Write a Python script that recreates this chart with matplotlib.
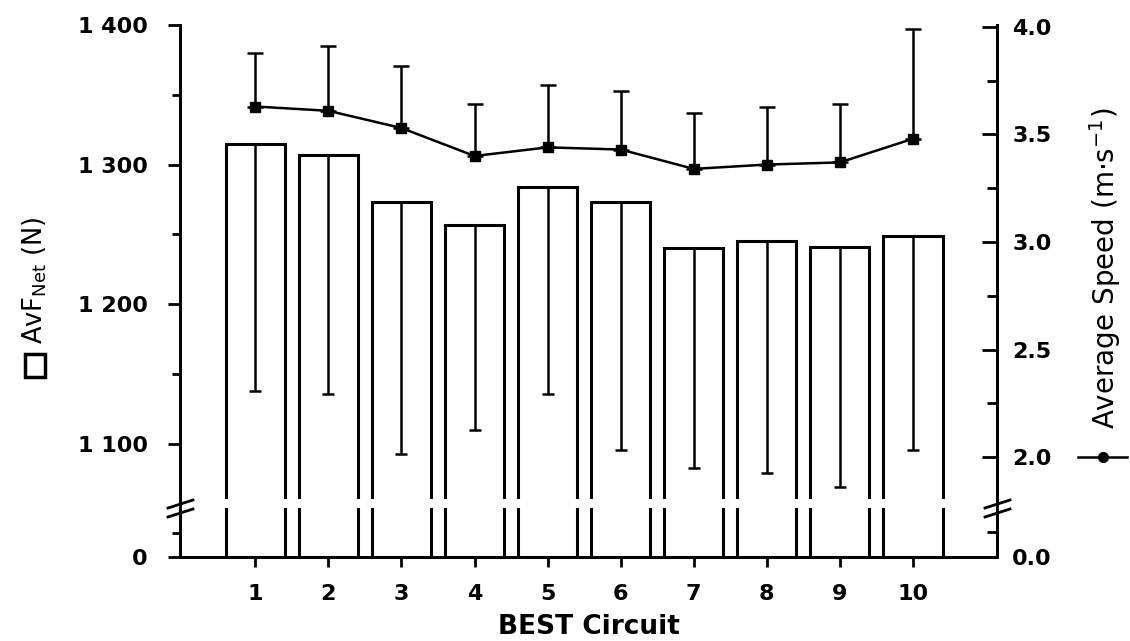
import numpy as np
import matplotlib
matplotlib.use('Agg')
import matplotlib.pyplot as plt
from matplotlib.lines import Line2D
from matplotlib.patches import Polygon, Rectangle

plt.rcParams['font.family'] = ['DejaVu Sans']

# data
circuits = [1, 2, 3, 4, 5, 6, 7, 8, 9, 10]
avf_net = [1315, 1307, 1273, 1257, 1284, 1273, 1240, 1245, 1241, 1249]
avf_low = [1138, 1136, 1093, 1110, 1136, 1096, 1083, 1079, 1069, 1096]
speed = [3.63, 3.61, 3.53, 3.40, 3.44, 3.43, 3.34, 3.36, 3.37, 3.48]
speed_high = [3.88, 3.91, 3.82, 3.64, 3.73, 3.70, 3.60, 3.63, 3.64, 3.99]

left_ticks = [0, 1100, 1200, 1300, 1400]
left_labels = ['0', '1 100', '1 200', '1 300', '1 400']
left_minor = [500, 1150, 1250, 1350]
right_ticks = [0.0, 2.0, 2.5, 3.0, 3.5, 4.0]
right_minor = [0.5, 2.25, 2.75, 3.25, 3.75]

# broken axes: piecewise linear scales (value -> pixel height above x axis)
lv = [-1000, 0, 1000, 1060.6, 1400, 3000]
lp = [-49, 0, 49, 58, 532, 532 + 1600 * 1.397]
rv = [-1, 0, 1.0, 1.805, 4.0, 10]
rp = [-49, 0, 49, 58, 530, 530 + 6 * 215]


def fwd(xv, xp):
    return lambda v: np.interp(v, xv, xp)


fig = plt.figure(figsize=(11.3, 6.41), dpi=100)
ax = fig.add_axes([180 / 1130, 1 - 557 / 641, 817 / 1130, 532 / 641])
ax.set_yscale('function', functions=(fwd(lv, lp), fwd(lp, lv)))
ax.set_ylim(0, 1400)
ax.set_xlim(-0.03, 11.15)

ax.bar(circuits, avf_net, width=0.81, color='white', edgecolor='black', linewidth=2.2, zorder=2)
lower_err = np.array(avf_net) - np.array(avf_low)
ax.errorbar(circuits, avf_net, yerr=[lower_err, np.zeros(len(circuits))], fmt='none',
            ecolor='black', elinewidth=1.8, capsize=4, capthick=1.8, zorder=2.1)
# gap through the bars at the break
ax.axhspan(1000, 1060.6, color='white', zorder=2.2, lw=0)

ax2 = ax.twinx()
ax2.set_yscale('function', functions=(fwd(rv, rp), fwd(rp, rv)))
ax2.set_ylim(0, 4.009)
up_err = np.array(speed_high) - np.array(speed)
ax2.errorbar(circuits, speed, yerr=[np.zeros(len(circuits)), up_err], fmt='-s', color='black',
             ms=7, lw=1.8, elinewidth=1.8, capsize=6, capthick=1.8)

for a in (ax, ax2):
    for s in a.spines.values():
        s.set_linewidth(2)
    a.spines['top'].set_visible(False)

ax.set_yticks(left_ticks)
ax.set_yticklabels(left_labels)
ax.set_yticks(left_minor, minor=True)
ax.set_xticks(circuits)
ax.tick_params(axis='y', which='major', length=8.6, width=2, labelsize=16, pad=14.5)
ax.tick_params(axis='y', which='minor', length=6, width=2)
ax.tick_params(axis='x', length=7.5, width=2, labelsize=16, pad=12)
for t in ax.get_yticklabels() + ax.get_xticklabels():
    t.set_fontweight('bold')

ax2.set_yticks(right_ticks)
ax2.set_yticklabels(['%.1f' % v for v in right_ticks])
ax2.set_yticks(right_minor, minor=True)
ax2.tick_params(axis='y', which='major', direction='in', length=11, width=2, labelsize=16, pad=11)
ax2.tick_params(axis='y', which='minor', direction='in', length=7, width=2)
for t in ax2.get_yticklabels():
    t.set_fontweight('bold')

ax.set_xlabel('BEST Circuit', fontsize=19, fontweight='bold', va='center')
ax.xaxis.set_label_coords(0.5, -(627 - 557) / 532)

fig.text(35 / 1130, 1 - 280 / 641, 'AvF$_{\\mathregular{Net}}$ (N)', rotation=90,
         ha='center', va='center', fontsize=18.5)
fig.add_artist(Rectangle((25 / 1130, 1 - 377 / 641), 20 / 1130, 23 / 641, fill=False,
                         lw=2.5, edgecolor='black', transform=fig.transFigure))
fig.text(1105 / 1130, 1 - 268 / 641, 'Average Speed (m\u00b7s$^{\\mathregular{-1}}$)', rotation=90,
         ha='center', va='center', fontsize=20)

# break marks on both spines
for xa in (0.0, 1.0):
    for yc in (53, 44):
        y0 = yc / 532
        ax.plot([xa - 12 / 817, xa + 13 / 817], [y0 - 4 / 532, y0 + 4 / 532], color='black', lw=2,
                transform=ax.transAxes, clip_on=False, zorder=5)
    ax.add_patch(Polygon([[xa - 6 / 817, 47 / 532], [xa + 6 / 817, 50 / 532],
                          [xa + 6 / 817, 55 / 532], [xa - 6 / 817, 52 / 532]],
                         closed=True, color='white', transform=ax.transAxes, clip_on=False, zorder=4))

# legend symbol below right label
fig.add_artist(Line2D([1078 / 1130, 1127 / 1130], [1 - 457 / 641] * 2, color='black', lw=1.8,
                      transform=fig.transFigure))
fig.add_artist(Line2D([1103 / 1130], [1 - 457 / 641], color='black', marker='o', ms=7,
                      transform=fig.transFigure))

fig.savefig('out.png', dpi=100)
